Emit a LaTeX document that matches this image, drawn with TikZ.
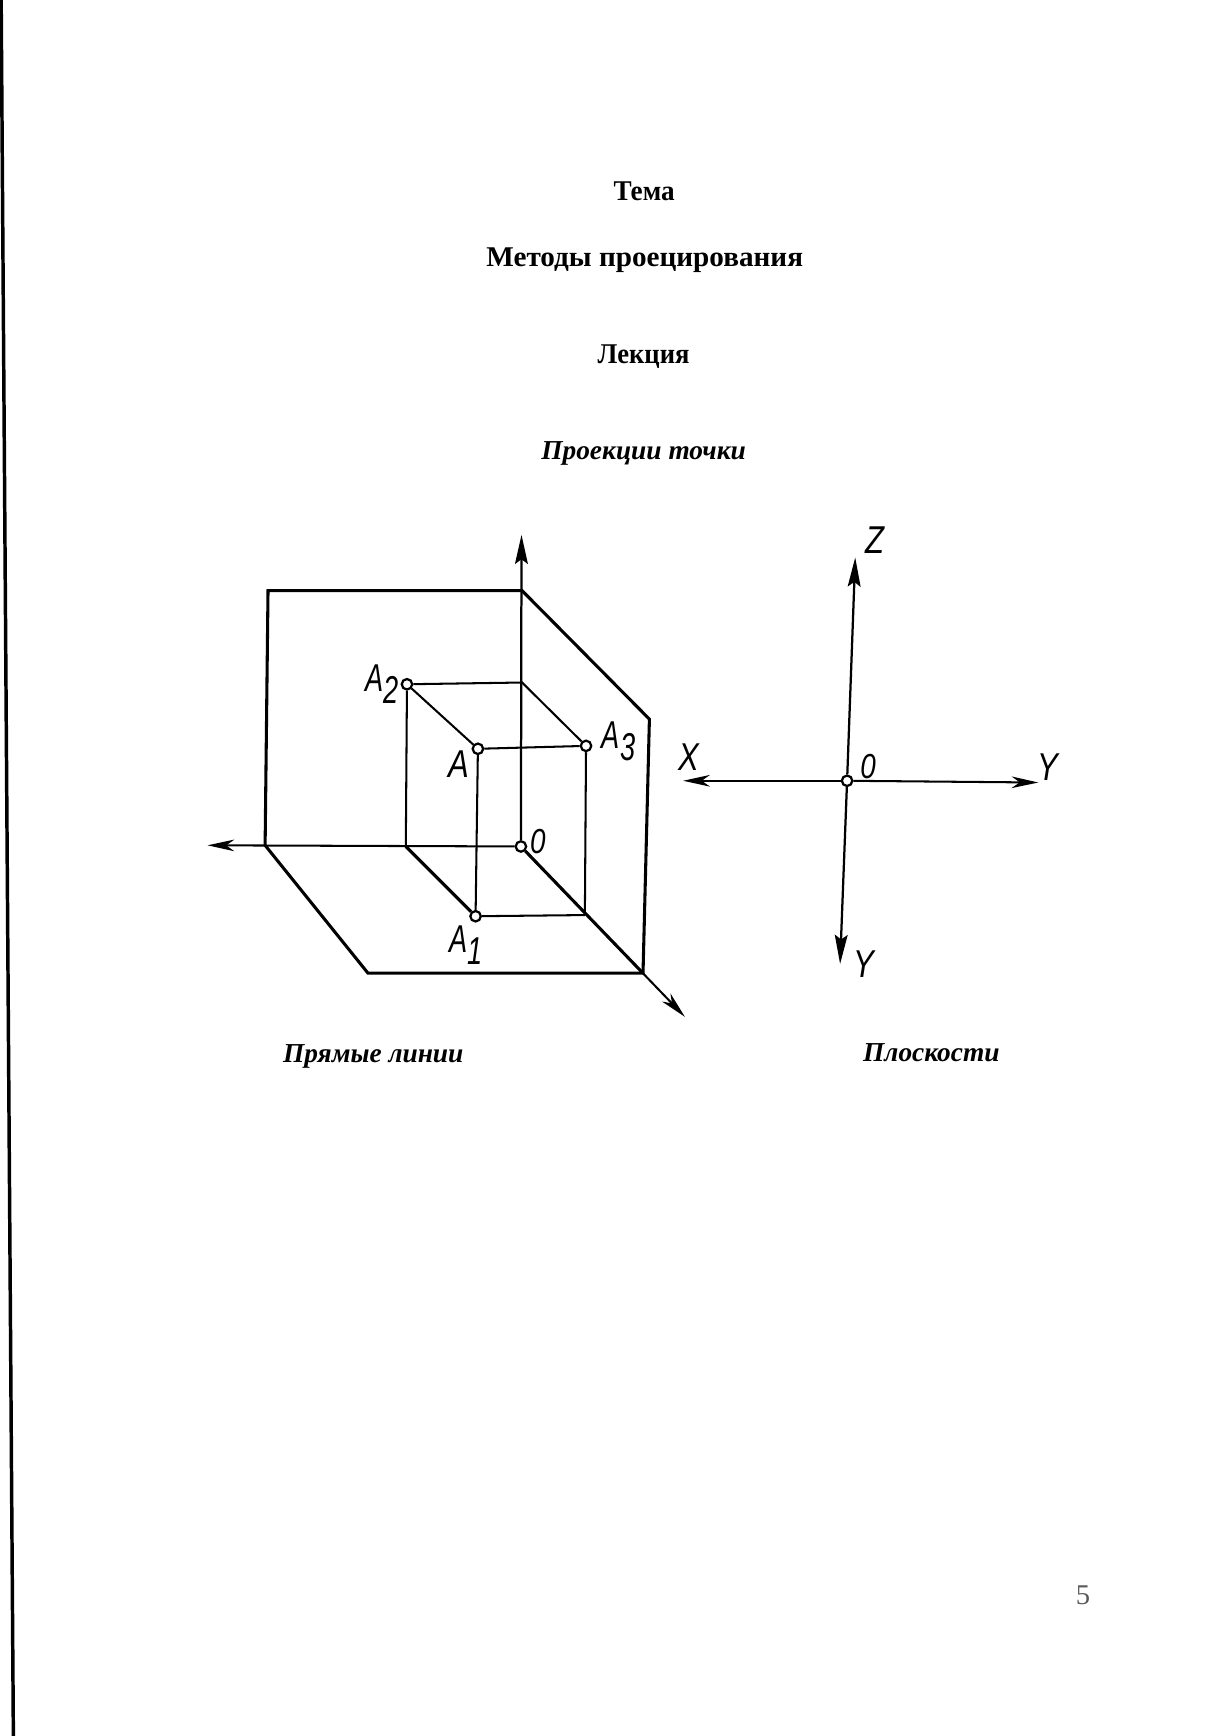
\documentclass[tikz,border=0pt]{standalone}
\usepackage{fontspec}
\setmainfont{Liberation Serif}
\newfontfamily\draftfont{Liberation Sans}
\usetikzlibrary{arrows.meta}
\newcommand{\lowidx}[1]{\raisebox{-0.6ex}{#1}}
\tikzset{
	pagetext/.style={font=\bfseries\fontsize{14}{16}\selectfont},
	slanttext/.style={font=\bfseries\itshape\fontsize{13.4}{16}\selectfont},
	axislabel/.style={font=\draftfont\itshape\fontsize{19}{20}\selectfont,xscale=0.8,transform shape,inner sep=0pt},
	indexlabel/.style={font=\draftfont\itshape\fontsize{19}{20}\selectfont,xscale=0.7,transform shape,inner sep=0pt},
	zerolabel/.style={font=\draftfont\itshape\fontsize{17}{18}\selectfont,xscale=0.8,transform shape,inner sep=0pt},
	holept/.style={circle,draw,fill=white,line width=1.1pt,inner sep=0pt,minimum size=0.18cm},
	thinline/.style={line width=1pt},
	frameline/.style={line width=1.5pt},
	barbaxis/.style={line width=1pt,-{Stealth[length=0.46cm,width=0.2cm,inset=0.14cm]}},
	fillaxis/.style={line width=1.1pt,-{Stealth[length=0.5cm,width=0.22cm,inset=0.08cm]}}
}
\begin{document}
\begin{tikzpicture}
	\useasboundingbox (0,0) rectangle (21,29.86);
	\draw[line width=1.7pt] (0.02,29.86) -- (0.23,0);
	% headings
	\node[pagetext,xscale=0.95,transform shape] (tema) at (11.08,26.57) {Тема};
	\node[pagetext,xscale=1.02,transform shape] (metody) at (11.09,25.39) {Методы проецирования};
	\node[pagetext,xscale=0.93,transform shape] (lekciya) at (11.07,23.73) {Лекция};
	\node[slanttext] (tochki) at (11.07,22.06) {Проекции точки};
	\node[slanttext] (pryamye) at (6.42,11.69) {Прямые линии};
	\node[slanttext] (ploskosti) at (16.02,11.75) {Плоскости};
	\node[font=\fontsize{14}{16}\selectfont,text=black!65] (pagenum) at (18.63,2.42) {5};
	% left picture
	\coordinate (ztip) at (8.97,20.66);
	\coordinate (xtip) at (3.57,15.32);
	\coordinate (ytip) at (11.78,12.37);
	\coordinate (ftr) at (8.98,19.70);
	\coordinate (ftl) at (4.61,19.70);
	\coordinate (fbl) at (4.56,15.32);
	\coordinate (frt) at (11.17,17.49);
	\coordinate (frb) at (11.06,13.12);
	\coordinate (flb) at (6.33,13.12);
	\coordinate (zmid) at (8.98,18.12);
	\coordinate (xmid) at (6.98,15.30);
	\coordinate (ymid) at (10.06,14.12);
	\node[holept] (o) at (8.96,15.30) {};
	\node[holept] (a) at (8.22,16.98) {};
	\node[holept] (a1) at (8.18,14.10) {};
	\node[holept] (a2) at (7.00,18.09) {};
	\node[holept] (a3) at (10.08,17.03) {};
	\draw[fillaxis] (o) -- (ztip);
	\draw[barbaxis] (o) -- (xtip);
	\draw[barbaxis] (o) -- (ytip);
	\draw[frameline] (fbl) -- (ftl) -- (ftr) -- (frt) -- (frb) -- (flb) -- (fbl);
	\draw[thinline] (a2) -- (zmid) -- (a3);
	\draw[thinline] (a2) -- (xmid);
	\draw[thinline] (a2) -- (a);
	\draw[thinline] (a) -- (a3);
	\draw[thinline] (a) -- (a1);
	\draw[thinline] (a3) -- (ymid);
	\draw[thinline] (a1) -- (ymid);
	\draw[frameline] (xmid) -- (a1);
	\draw[frameline] (o) -- (frb);
	\node[axislabel] (la) at (7.90,16.72) {A};
	\node[indexlabel] (la1) at (8.01,13.6) {A\lowidx{1}};
	\node[indexlabel] (la2) at (6.57,18.09) {A\lowidx{2}};
	\node[indexlabel] (la3) at (10.64,17.11) {A\lowidx{3}};
	\node[zerolabel] (lo) at (9.25,15.38) {0};
	% right picture
	\coordinate (ztwo) at (14.71,20.27);
	\coordinate (xtwo) at (11.75,16.43);
	\coordinate (ytwo) at (17.86,16.40);
	\coordinate (ydown) at (14.45,13.28);
	\node[holept] (otwo) at (14.57,16.43) {};
	\draw[fillaxis] (otwo) -- (ztwo);
	\draw[barbaxis] (otwo) -- (xtwo);
	\draw[barbaxis] (otwo) -- (ytwo);
	\draw[fillaxis] (otwo) -- (ydown);
	\node[axislabel] (lz) at (15.05,20.57) {Z};
	\node[axislabel] (lx) at (11.84,16.83) {X};
	\node[zerolabel] (lotwo) at (14.93,16.68) {0};
	\node[axislabel] (ly) at (18.03,16.66) {Y};
	\node[axislabel] (lydown) at (14.86,13.28) {Y};
\end{tikzpicture}
\end{document}
